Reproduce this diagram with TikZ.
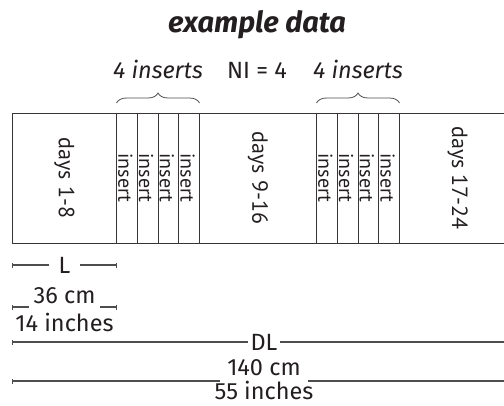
\documentclass[tikz,border=0pt]{standalone}
\usepackage{fontspec}
\setmainfont{Fira Sans}
\newfontfamily\stripfont{PT Sans}
\usetikzlibrary{arrows.meta,decorations.pathreplacing}
\definecolor{ink}{HTML}{231F20}
\tikzset{
	tick/.tip={Bar[width=5pt,line width=1pt]},
	lbl/.style={text=ink, font=\fontsize{23.5}{25}\selectfont, inner sep=0pt},
	daylbl/.style={text=ink, font=\stripfont\fontsize{22}{24}\selectfont, rotate=-90, inner sep=0pt},
	inslbl/.style={text=ink, font=\stripfont\fontsize{20}{22}\selectfont, rotate=-90, anchor=south, inner sep=0pt},
	edge/.style={draw=ink!90, line width=1pt},
	dimline/.style={draw=ink!80, line width=1.1pt},
	bracebox/.style={draw=ink!80, line width=0.8pt, decorate, decoration={brace, amplitude=10pt}}
}

\begin{document}
\begin{tikzpicture}[x=1pt, y=-1pt]
	\useasboundingbox (0,0) rectangle (504,405);
	\clip (0,0) rectangle (504,405);

	% heading
	\node[lbl, font=\bfseries\itshape\fontsize{29}{31}\selectfont, anchor=base] (title) at (257,32) {example data};
	\node[lbl, font=\itshape\fontsize{23.5}{25}\selectfont, anchor=base] (grpA) at (158,78) {4 inserts};
	\node[lbl, anchor=base] (ni) at (257,78) {NI = 4};
	\node[lbl, font=\itshape\fontsize{23.5}{25}\selectfont, anchor=base] (grpB) at (358,78) {4 inserts};

	\draw[bracebox] (116.5,103) -- (199.5,103);
	\draw[bracebox] (316.5,103) -- (399.5,103);

	% strip of days and inserts
	\draw[edge] (12,113) rectangle (516,243);
	\foreach \x in {116.5,137.5,158.5,178.5,199.5} {
		\draw[edge] (\x,113) -- (\x,243);
		\draw[edge] (\x+200,113) -- (\x+200,243);
	}
	\foreach \i in {0,...,3} {
		\node[inslbl] (insA\i) at (118+20.75*\i,178) {insert};
		\node[inslbl] (insB\i) at (318+20.75*\i,178) {insert};
	}
	\node[daylbl] (daysA) at (64.4,178) {days 1-8};
	\node[daylbl] (daysB) at (258,178) {days 9-16};
	\node[daylbl] (daysC) at (457.6,178) {days 17-24};

	% dimensions
	\coordinate (Ll) at (12,265);
	\coordinate (Lr) at (117,265);
	\draw[dimline, tick-tick] (Ll) -- (Lr) node[lbl, midway, fill=white, inner xsep=10pt, inner ysep=2pt] (L) {L};

	\coordinate (cml) at (12,307);
	\coordinate (cmr) at (117,307);
	\draw[dimline, tick-tick] (cml) -- (cmr);
	\node[lbl, anchor=base, fill=white, inner sep=5pt] (cmA) at (64.5,303) {36 cm};
	\node[lbl, anchor=base] (inA) at (64.5,331) {14 inches};

	\coordinate (DLl) at (12,342);
	\coordinate (DLr) at (516,342);
	\draw[dimline, tick-tick] (DLl) -- (DLr) node[lbl, midway, fill=white, inner xsep=3pt, inner ysep=2pt] (DL) {DL};

	\coordinate (dcml) at (12,381);
	\coordinate (dcmr) at (516,381);
	\draw[dimline, tick-tick] (dcml) -- (dcmr);
	\node[lbl, anchor=base, fill=white, inner sep=7pt] (cmB) at (264,375) {140 cm};
	\node[lbl, anchor=base] (inB) at (264,399) {55 inches};
\end{tikzpicture}
\end{document}
